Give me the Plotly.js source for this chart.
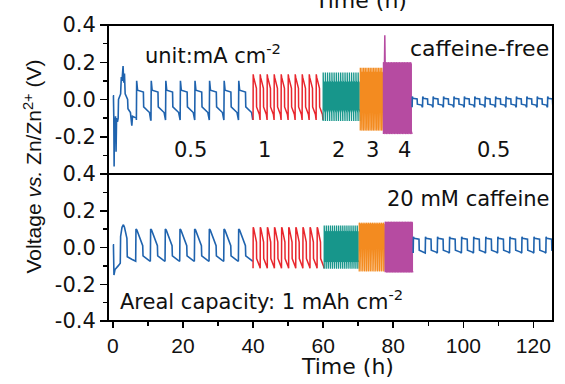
<!DOCTYPE html>
<html>
<head>
<meta charset="utf-8">
<script src="https://cdn.plot.ly/plotly-3.0.1.min.js"></script>
<style>html,body{margin:0;padding:0;background:#fff;}#chart{width:565px;height:384px;}</style>
</head>
<body>
<div id="chart"></div>
<script>
// ---------- data (time in h, voltage in V) ----------
// Current densities (mA cm^-2) of the successive segments
const currentDensity = [0.5, 1, 2, 3, 4, 0.5];

// Caffeine-free cell (top panel): first-hours transient
const freeTransT = [0, 0.15, 0.25, 0.35, 0.45, 0.6, 0.75, 0.9, 1.05, 1.3, 1.5, 1.6, 2.2, 2.4, 2.6, 2.9, 3.1, 3.3, 3.5, 4.2, 4.3, 5.0, 5.4, 5.6, 6.7];
const freeTransV = [0.02, 0.02, -0.09, -0.36, -0.10, -0.20, -0.09, -0.28, -0.10, -0.12, -0.10, 0.0, 0.03, 0.12, 0.10, 0.18, 0.09, 0.14, 0.03, 0.0, -0.05, -0.07, -0.14, -0.09, -0.10];
// per segment: start/end time, number of cycles and voltage levels of a cycle
const freeStart     = [6.7, 40, 60, 70.6, 77.2, 85.4];
const freeEnd       = [40, 60, 70.6, 77.2, 85.4, 127];
const freeCycles    = [8, 10, 17, 14, 18, 14];
const freePeak      = [0.10, 0.135, 0.145, 0.17, 0.20, 0.016];
const freeHighStart = [0.05, 0.12, 0.10, 0.15, 0.198, 0.006];
const freeHighEnd   = [0.04, 0.06, 0.09, 0.14, 0.19, 0.003];
const freeLowStart  = [-0.04, -0.04, -0.05, -0.13, -0.17, -0.025];
const freeLowEnd    = [-0.07, -0.08, -0.07, -0.15, -0.176, -0.03];
const freeDip       = [-0.11, -0.11, -0.115, -0.167, -0.185, -0.042];
// voltage spike at the start of the 4 mA cm^-2 step
const freeSpikeT = [77.5, 77.6, 77.7];
const freeSpikeV = [0.19, 0.345, 0.19];

// 20 mM caffeine cell (bottom panel)
const cafTransT = [0, 0.15, 0.3, 0.6, 1.5, 2.1, 2.2, 2.6, 3.0, 3.3, 4.0, 4.1, 5.5, 6.5];
const cafTransV = [0.015, 0.015, -0.15, -0.12, -0.10, -0.085, 0.06, 0.11, 0.124, 0.11, 0.05, -0.05, -0.065, -0.075];
const cafStart     = [6.5, 40, 60.3, 70.3, 77.7, 85.7];
const cafEnd       = [40, 60.3, 70.3, 77.7, 85.7, 127];
const cafCycles    = [8, 10, 17, 14, 18, 12];
const cafPeak      = [0.10, 0.11, 0.12, 0.135, 0.14, 0.058];
const cafHighStart = [0.095, 0.105, 0.09, 0.13, 0.138, 0.05];
const cafHighEnd   = [0.01, 0.03, 0.085, 0.125, 0.135, 0.045];
const cafLowStart  = [-0.045, -0.06, -0.07, -0.11, -0.13, -0.015];
const cafLowEnd    = [-0.07, -0.10, -0.08, -0.12, -0.132, -0.025];
const cafDip       = [-0.075, -0.113, -0.115, -0.13, -0.135, -0.03];

// axis ticks
const xTicks = [0, 20, 40, 60, 80, 100, 120];
const yTicksBottom = [-0.4, -0.2, 0, 0.2, 0.4];
const yTicksBottomText = ['-0.4', '-0.2', '0.0', '0.2', '0.4'];
const yTicksTop = [-0.2, 0, 0.2, 0.4];
const yTicksTopText = ['-0.2', '0.0', '0.2', '0.4'];

// ---------- styles ----------
const segColors = ['#1f63ae', '#e8262d', '#17968b', '#f38b20', '#b64ba1', '#1f63ae'];
const segWidths = [1.6, 1.5, 1.3, 1.3, 1.3, 1.6];

// build a galvanostatic cycle sequence from the read levels of a segment
function cycleSeg(s, e, n, pk, hs, he, ls, le, dp) {
  const x = [], y = [];
  const P = (e - s) / n;
  for (let k = 0; k < n; k++) {
    const t0 = s + k * P;
    x.push(t0, t0 + 0.02 * P, t0 + 0.08 * P, t0 + 0.48 * P, t0 + 0.5 * P, t0 + 0.9 * P, t0 + 0.98 * P);
    y.push(dp, pk, hs, he, ls, le, dp);
  }
  return {x, y};
}

const traces = [];
function addPanel(prefix, yax) {
  const D = prefix === 'free'
    ? [freeStart, freeEnd, freeCycles, freePeak, freeHighStart, freeHighEnd, freeLowStart, freeLowEnd, freeDip, freeTransT, freeTransV]
    : [cafStart, cafEnd, cafCycles, cafPeak, cafHighStart, cafHighEnd, cafLowStart, cafLowEnd, cafDip, cafTransT, cafTransV];
  for (let i = 0; i < currentDensity.length; i++) {
    const seg = cycleSeg(D[0][i], D[1][i], D[2][i], D[3][i], D[4][i], D[5][i], D[6][i], D[7][i], D[8][i]);
    let x = seg.x, y = seg.y;
    if (i === 0) { x = D[9].concat(x); y = D[10].concat(y); }
    traces.push({x, y, type: 'scatter', mode: 'lines', xaxis: 'x', yaxis: yax,
      line: {color: segColors[i], width: segWidths[i]}, hoverinfo: 'skip'});
  }
}
addPanel('free', 'y2');
traces.push({x: freeSpikeT, y: freeSpikeV, type: 'scatter', mode: 'lines', xaxis: 'x', yaxis: 'y2',
  line: {color: segColors[4], width: 1.5}, hoverinfo: 'skip'});
addPanel('caf', 'y');

const L = 108, R = 553, T = 25, B = 321;
const px = v => (v - L) / (R - L);
const py = v => (B - v) / (B - T);
const split = py(174);

const txt = {family: 'DejaVu Sans, sans-serif', size: 21, color: '#111'};
function ann(text, x, y, xanchor, extra) {
  return Object.assign({text, x: px(x), y: py(y), xref: 'paper', yref: 'paper', xanchor, yanchor: 'middle',
    showarrow: false, font: txt}, extra || {});
}

const yCommon = {
  range: [-0.4, 0.4], anchor: 'x', ticks: 'outside', ticklen: 7, tickwidth: 1.5, tickcolor: '#000',
  showgrid: false, zeroline: false, showline: false, fixedrange: true,
  tickfont: {family: 'DejaVu Sans, sans-serif', size: 21, color: '#111'},
  minor: {ticks: 'outside', ticklen: 4, tickwidth: 1.5, tickcolor: '#000', tickvals: [-0.3, -0.1, 0.1, 0.3], showgrid: false}
};

const layout = {
  width: 565, height: 384,
  margin: {l: L, r: 565 - R, t: T, b: 384 - B, pad: 0},
  paper_bgcolor: '#fff', plot_bgcolor: '#fff', showlegend: false,
  xaxis: {
    domain: [0, 1], anchor: 'y', range: [-1.4, 125.6], tickvals: xTicks, ticktext: xTicks.map(String),
    ticks: 'outside', ticklen: 6, tickwidth: 1.5, tickcolor: '#000',
    showgrid: false, zeroline: false, showline: false,
    tickfont: {family: 'Liberation Sans, Arial, sans-serif', size: 21, color: '#111'},
    minor: {ticks: 'outside', ticklen: 4, tickwidth: 1.5, tickcolor: '#000', tickvals: [10, 30, 50, 70, 90, 110], showgrid: false}
  },
  yaxis: Object.assign({}, yCommon, {domain: [0, split], tickvals: yTicksBottom, ticktext: yTicksBottomText}),
  yaxis2: Object.assign({}, yCommon, {domain: [split, 1], tickvals: yTicksTop, ticktext: yTicksTopText}),
  shapes: [
    {type: 'rect', xref: 'paper', yref: 'paper', x0: 0, x1: 1, y0: 0, y1: 1, line: {color: '#000', width: 2}},
    {type: 'line', xref: 'paper', yref: 'paper', x0: 0, x1: 1, y0: split, y1: split, line: {color: '#000', width: 2}}
  ],
  annotations: [
    ann('unit:mA cm<sup>-2</sup>', 143, 54, 'left'),
    ann('caffeine-free', 551, 48, 'right', {font: Object.assign({}, txt, {size: 22})}),
    ann('0.5', 190.5, 150, 'center'),
    ann('1', 264, 150, 'center'),
    ann('2', 338, 150, 'center'),
    ann('3', 372.5, 150, 'center'),
    ann('4', 404.5, 150, 'center'),
    ann('0.5', 493.5, 150, 'center'),
    ann('20 mM caffeine', 552, 198.5, 'right'),
    ann('Areal capacity: 1 mAh cm<sup>-2</sup>', 118, 300, 'left'),
    ann('Time (h)', 347, 366, 'center', {font: Object.assign({}, txt, {size: 22})}),
    ann('Time (h)', 360, 0, 'center', {font: Object.assign({}, txt, {size: 22})}),
    ann('Voltage <i>vs.</i> Zn/Zn<sup>2+</sup> (V)', 32, 166.5, 'center',
      {textangle: -90, font: {family: 'Liberation Sans, Arial, sans-serif', size: 21, color: '#111'}})
  ]
};

Plotly.newPlot('chart', traces, layout, {staticPlot: true, displayModeBar: false});
</script>
</body>
</html>
